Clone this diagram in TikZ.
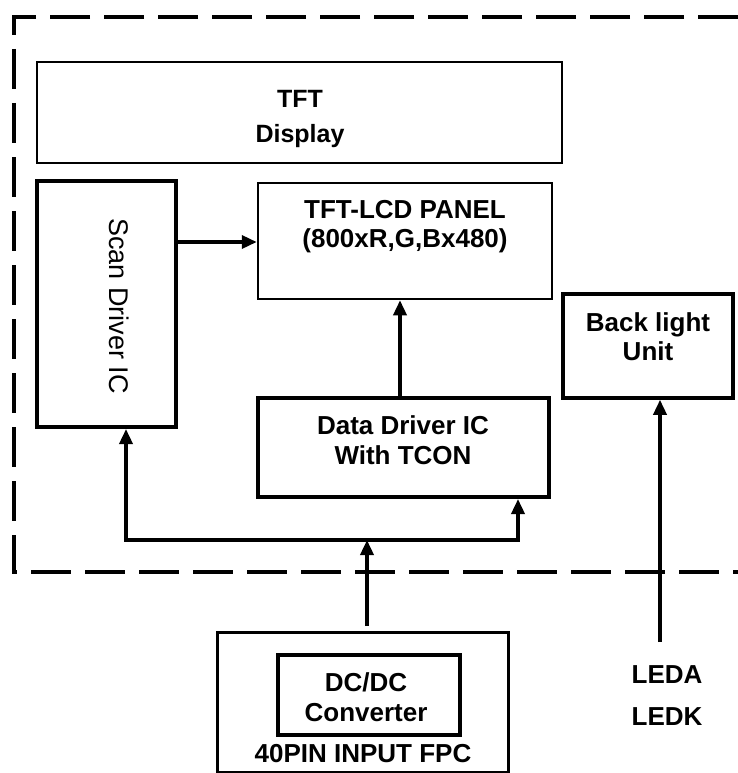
\documentclass[tikz,border=0pt]{standalone}
\usepackage{fontspec}
\setmainfont{Liberation Sans}
\usetikzlibrary{arrows.meta}
\begin{document}
\begin{tikzpicture}[x=1pt,y=-1pt,
  box/.style={draw, inner sep=0pt, line width=#1},
  lbl/.style={font=\fontsize{26}{29}\selectfont\bfseries, align=center, inner sep=0pt},
  tip/.style={Triangle[length=15pt,width=13pt]},
  arr/.style={line width=3.5pt, line join=miter, -{Triangle[length=15pt,width=13pt]}},
  frame/.style={line width=4pt, dash pattern=on 40pt off 14pt}]
\useasboundingbox (0,0) rectangle (738,773);
% dashed module frame
\draw[frame] (738,17) -- (14,17) -- (14,572) -- (738,572);
% boxes
\node[box=1.5pt, minimum width=525pt, minimum height=101pt] (disp) at (299.5,112.5) {};
\node[box=4pt, minimum width=139pt, minimum height=246pt] (scan) at (106.5,304) {};
\node[box=2.5pt, minimum width=294pt, minimum height=116pt] (panel) at (405,241) {};
\node[box=3.5pt, minimum width=170pt, minimum height=104pt] (back) at (648,346) {};
\node[box=4pt, minimum width=291pt, minimum height=99pt] (data) at (403.5,447.5) {};
\node[box=3pt, minimum width=291pt, minimum height=140pt] (fpc) at (362.5,702) {};
\node[box=3.5pt, minimum width=182pt, minimum height=80pt] (dcdc) at (369,695) {};
% texts
\node[lbl, font=\fontsize{25}{35}\selectfont\bfseries] (tdisp) at (300,119) {TFT\\Display};
\node[inner sep=0pt, font=\fontsize{27}{30}\selectfont, rotate=-90] (tscan) at (119,306) {Scan Driver IC};
\node[lbl] (tpanel) at (405,227) {TFT-LCD PANEL\\(800xR,G,Bx480)};
\node[lbl] (tback) at (648,337) {Back light\\Unit};
\node[lbl, font=\fontsize{26}{30}\selectfont\bfseries] (tdata) at (403,440) {Data Driver IC\\With TCON};
\node[lbl, font=\fontsize{26}{30}\selectfont\bfseries] (tdcdc) at (366,697) {DC/DC\\Converter};
\node[lbl] (tfpc) at (363,754) {40PIN INPUT FPC};
\node[lbl, font=\fontsize{26}{42}\selectfont\bfseries] (tled) at (667,696) {LEDA\\LEDK};
% connectors
\coordinate (sa) at (176,242);
\draw[arr] (sa) -- (sa -| panel.west);
\coordinate (dp) at (400,0);
\draw[arr] (data.north -| dp) -- (panel.south -| dp);
\coordinate (bl) at (126,540);
\coordinate (br) at (518,540);
\draw[line width=3.5pt, line join=miter, {Triangle[length=15pt,width=13pt]}-{Triangle[length=15pt,width=13pt]}]
  (bl |- scan.south) -- (bl) -- (br) -- (br |- data.south);
\coordinate (fb) at (367,626);
\draw[arr] (fb) -- (fb |- bl);
\coordinate (lb) at (660,642);
\draw[arr] (lb) -- (lb |- back.south);
\end{tikzpicture}
\end{document}
